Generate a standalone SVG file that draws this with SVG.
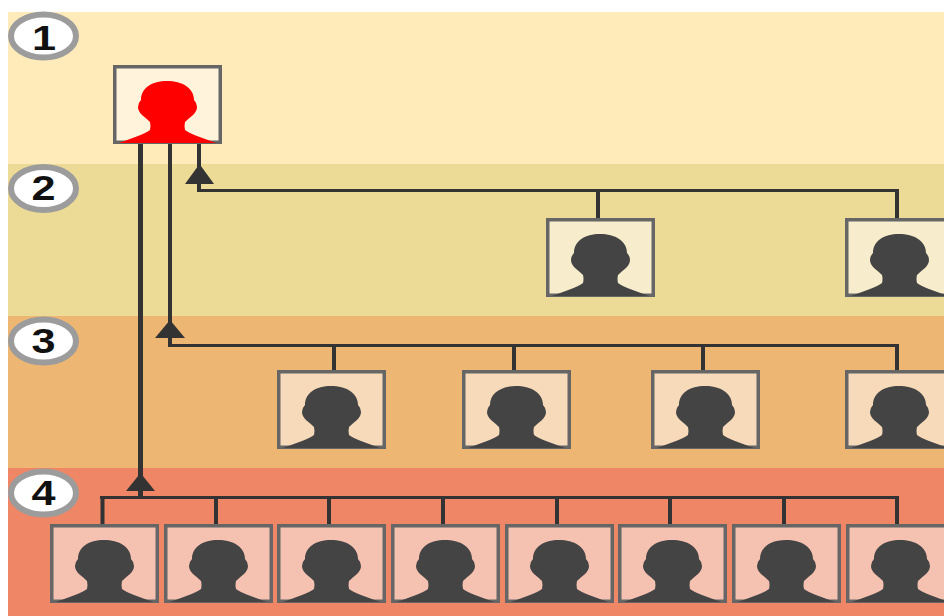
<svg xmlns="http://www.w3.org/2000/svg" width="944" height="616" viewBox="0 0 944 616">
<style>
.box{stroke:#666;stroke-width:3.500}
.sil{fill:#444}
.r2{fill:#f7edcc}.r3{fill:#f6dab9}.r4{fill:#f5c2b1}
.bub{fill:#fff;stroke:#9c9c9c;stroke-width:6}
.num{font:bold 36px "Liberation Sans",Arial,sans-serif;text-anchor:middle;fill:#111}
.ln{stroke:#333;stroke-width:3;fill:none}
.dr{stroke:#333;stroke-width:4;fill:none}
.tri{fill:#333}
</style>
<defs>
<path id="s" d="M6 78L25 71Q33 68 37 65Q38 61 37 57Q34 54 29 50Q25 46 25 42Q25 38 28 35C28 23 39 16 54 16C69 16 81 23 81 35Q84 38 84 42Q84 46 80 50Q75 54 72 57Q71 61 72 65Q76 68 84 71L103 78Z"/>
</defs>
<rect x="8" y="12" width="936" height="152" fill="#feebb9"/>
<rect x="8" y="164" width="936" height="152" fill="#ecdb96"/>
<rect x="8" y="316" width="936" height="152" fill="#edb673"/>
<rect x="8" y="468" width="936" height="148" fill="#ef8766"/>
<g id="bubble-1"><ellipse class="bub" cx="43.500" cy="36" rx="32.500" ry="21.500"/><text class="num" transform="translate(44 50) scale(1.200 1)">1</text></g>
<g id="bubble-2"><ellipse class="bub" cx="43.500" cy="188.500" rx="32.500" ry="21.500"/><text class="num" transform="translate(43.500 200) scale(1.200 1)">2</text></g>
<g id="bubble-3"><ellipse class="bub" cx="43.500" cy="341" rx="32.500" ry="21.500"/><text class="num" transform="translate(43.500 353) scale(1.200 1)">3</text></g>
<g id="bubble-4"><ellipse class="bub" cx="43.500" cy="493" rx="32.500" ry="21.500"/><text class="num" transform="translate(43.500 505) scale(1.200 1)">4</text></g>
<g id="connectors">
<path class="ln" style="stroke-width:5" d="M140.500 144V499"/>
<path class="dr" d="M170 144V347"/>
<path class="dr" d="M199 144V192"/>
<path class="ln" d="M197 190.500H899M168 345.500H899M100 497.500H899"/>
<path class="dr" d="M598 190V218M897 190V218M334 345V370M514 345V370M703 345V370M897 345V370M102.500 497V524M216 497V524M329 497V524M443 497V524M557 497V524M670 497V524M784 497V524M897 497V524"/>
<path class="tri" d="M199.500 164L214 184H185Z"/>
<path class="tri" d="M170 320L185 338H155Z"/>
<path class="tri" d="M140.500 473L155 491H126Z"/>
</g>
<g id="node-root"><rect class="box" fill="#fff3dc" x="114.750" y="66.750" width="105.500" height="75.500"/><use href="#s" x="113" y="65" style="fill:#f00"/></g>
<g id="node-2a"><rect class="box r2" x="547.750" y="219.750" width="105.500" height="75.500"/><use href="#s" class="sil" x="546" y="218"/></g>
<g id="node-2b"><rect class="box r2" x="846.750" y="219.750" width="105.500" height="75.500"/><use href="#s" class="sil" x="845" y="218"/></g>
<g id="node-3a"><rect class="box r3" x="278.750" y="371.750" width="105.500" height="75.500"/><use href="#s" class="sil" x="277" y="370"/></g>
<g id="node-3b"><rect class="box r3" x="463.750" y="371.750" width="105.500" height="75.500"/><use href="#s" class="sil" x="462" y="370"/></g>
<g id="node-3c"><rect class="box r3" x="652.750" y="371.750" width="105.500" height="75.500"/><use href="#s" class="sil" x="651" y="370"/></g>
<g id="node-3d"><rect class="box r3" x="846.750" y="371.750" width="105.500" height="75.500"/><use href="#s" class="sil" x="845" y="370"/></g>
<g id="node-4a"><rect class="box r4" x="51.750" y="525.750" width="105.500" height="75.500"/><use href="#s" class="sil" x="50" y="524"/></g>
<g id="node-4b"><rect class="box r4" x="165.750" y="525.750" width="105.500" height="75.500"/><use href="#s" class="sil" x="164" y="524"/></g>
<g id="node-4c"><rect class="box r4" x="278.750" y="525.750" width="105.500" height="75.500"/><use href="#s" class="sil" x="277" y="524"/></g>
<g id="node-4d"><rect class="box r4" x="392.750" y="525.750" width="105.500" height="75.500"/><use href="#s" class="sil" x="391" y="524"/></g>
<g id="node-4e"><rect class="box r4" x="506.750" y="525.750" width="105.500" height="75.500"/><use href="#s" class="sil" x="505" y="524"/></g>
<g id="node-4f"><rect class="box r4" x="619.750" y="525.750" width="105.500" height="75.500"/><use href="#s" class="sil" x="618" y="524"/></g>
<g id="node-4g"><rect class="box r4" x="733.750" y="525.750" width="105.500" height="75.500"/><use href="#s" class="sil" x="732" y="524"/></g>
<g id="node-4h"><rect class="box r4" x="847.750" y="525.750" width="105.500" height="75.500"/><use href="#s" class="sil" x="846" y="524"/></g>
</svg>
